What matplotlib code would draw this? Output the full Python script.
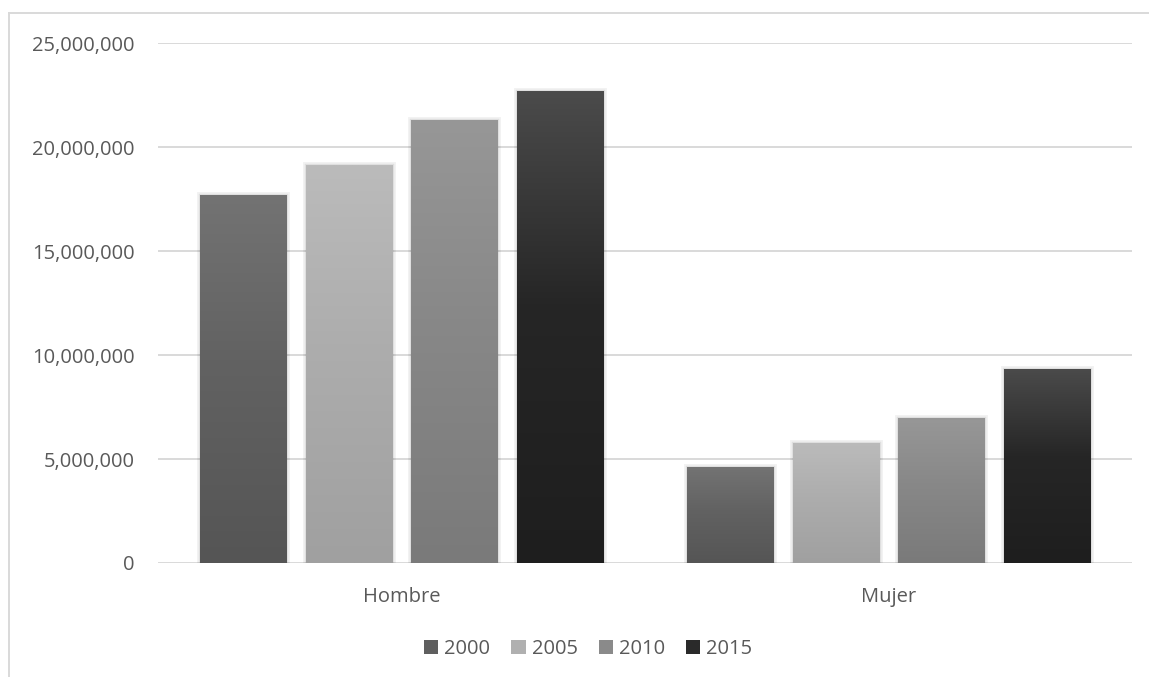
import numpy as np
import matplotlib.pyplot as plt
from matplotlib.lines import Line2D
from matplotlib.patches import Patch
from matplotlib.colors import LinearSegmentedColormap
from matplotlib.ticker import FuncFormatter

plt.rcParams['font.family'] = ['Open Sans', 'DejaVu Sans']

categories = ["Hombre", "Mujer"]
years = ["2000", "2005", "2010", "2015"]
v2000 = [17700000, 4600000]
v2005 = [19130000, 5770000]
v2010 = [21300000, 6970000]
v2015 = [22690000, 9330000]
series = [v2000, v2005, v2010, v2015]

# top / bottom colours of each gradient
tops = ["#737373", "#bbbbbb", "#979797", "#4b4b4b"]
mids = ["#626262", "#adadad", "#888888", "#262626"]
bottoms = ["#555555", "#a0a0a0", "#7a7a7a", "#1e1e1e"]
legend_cols = ["#5f5f5f", "#b0b0b0", "#8a8a8a", "#2a2a2a"]

text_col = "#595959"
grid_col = "#d9d9d9"

fig = plt.figure(figsize=(11.49, 6.77), dpi=100)
ax = fig.add_axes([158 / 1149, 1 - 563 / 677, (1132 - 158) / 1149, (563 - 43) / 677])

x = np.arange(len(categories))
step = 0.217
width = 0.177
grad = np.linspace(0, 1, 256).reshape(-1, 1)

for i, vals in enumerate(series):
    off = (i - 1.5) * step
    # soft shadow behind the bars
    ax.bar(x + off, vals, width, color="none", edgecolor="#000000",
           linewidth=5, alpha=0.05, zorder=2)
    ax.bar(x + off, vals, width, color="none", edgecolor="#000000",
           linewidth=2.5, alpha=0.08, zorder=2)
    bars = ax.bar(x + off, vals, width, color=bottoms[i], zorder=3)
    cmap = LinearSegmentedColormap.from_list(
        "g%d" % i, [(0, bottoms[i]), (0.55, mids[i]), (1, tops[i])])
    for b in bars:
        bx, by = b.get_x(), b.get_y()
        bw, bh = b.get_width(), b.get_height()
        im = ax.imshow(grad, cmap=cmap, aspect="auto", origin="lower",
                       extent=[bx, bx + bw, by, by + bh], zorder=4)
        im.set_clip_path(b)

ax.set_xlim(-0.5, 1.5)
ax.set_ylim(0, 25000000)
ax.set_yticks(np.arange(0, 25000001, 5000000))
ax.yaxis.set_major_formatter(FuncFormatter(lambda v, p: f"{int(v):,}"))
ax.set_xticks(x)
ax.set_xticklabels(categories)
ax.grid(axis="y", color=grid_col, linewidth=1.4, zorder=0)
ax.set_axisbelow(True)
for s in ax.spines.values():
    s.set_visible(False)
ax.tick_params(axis="both", length=0, labelsize=14.5, labelcolor=text_col)
ax.tick_params(axis="y", pad=17)
ax.tick_params(axis="x", pad=17)

handles = [Patch(facecolor=c, edgecolor="none") for c in legend_cols]
fig.legend(handles, years, loc="center", bbox_to_anchor=(0.512, 1 - 649 / 677),
           ncol=4, frameon=False, fontsize=14.5, labelcolor=text_col,
           handlelength=0.7, handleheight=0.7, handletextpad=0.3,
           columnspacing=1.05)

# outer chart frame
fig.add_artist(Line2D([9 / 1149, 1], [1 - 13 / 677, 1 - 13 / 677],
                      transform=fig.transFigure, color=grid_col, linewidth=1.4))
fig.add_artist(Line2D([9 / 1149, 9 / 1149], [0, 1 - 13 / 677],
                      transform=fig.transFigure, color=grid_col, linewidth=1.4))

fig.savefig("out.png", dpi=100)
